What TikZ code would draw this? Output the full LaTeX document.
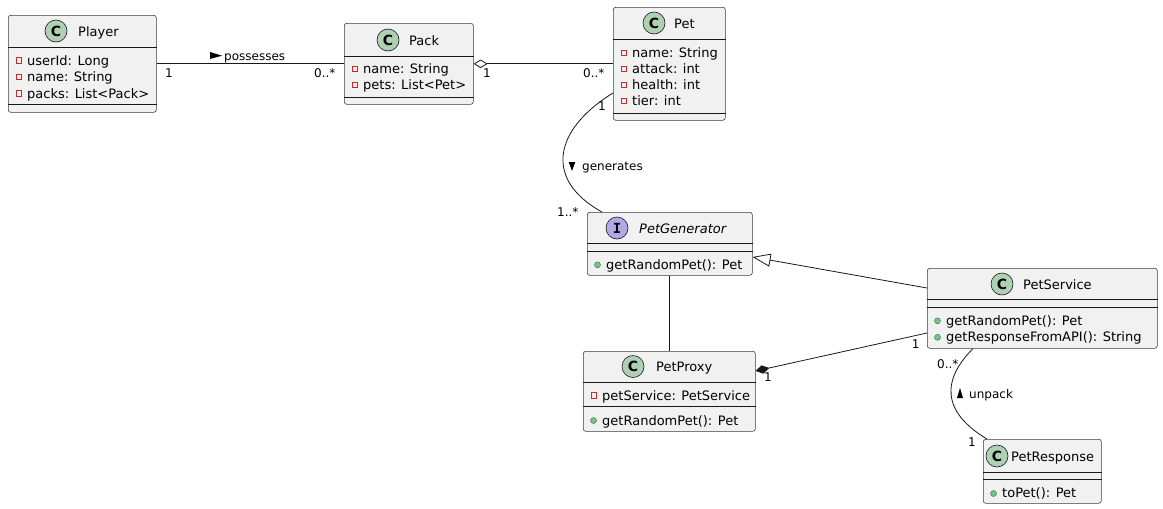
\documentclass[tikz,border=0pt]{standalone}
\usepackage{fontspec}
\setmainfont{DejaVu Sans}
\newfontfamily\monoI{DejaVu Sans Mono}
\usetikzlibrary{arrows.meta,calc}
\definecolor{boxfill}{HTML}{F1F1F1}
\definecolor{boxline}{HTML}{181818}
\definecolor{cgreen}{HTML}{ADD1B2}
\definecolor{ipurple}{HTML}{B4A7E5}
\definecolor{privred}{HTML}{C82930}
\definecolor{pubgreen}{HTML}{84BE84}
\definecolor{pubdark}{HTML}{038048}
\tikzset{
  box/.style={draw=boxline!85, fill=boxfill, rounded corners=2.5pt, line width=0.6pt, inner sep=0pt, anchor=north west},
  ctext/.style={font=\fontsize{13}{15}\selectfont, inner sep=0pt, anchor=base west},
  ltext/.style={font=\fontsize{12}{14}\selectfont, inner sep=0pt, anchor=base west},
  spot/.style={circle, draw=boxline, line width=0.6pt, minimum size=22pt, inner sep=0pt, font=\bfseries\fontsize{14}{14}\selectfont},
  priv/.style={rectangle, draw=privred, line width=0.8pt, minimum size=5.5pt, inner sep=0pt},
  pub/.style={circle, fill=pubgreen, draw=pubdark, line width=0.4pt, minimum size=6pt, inner sep=0pt},
  divider/.style={draw=boxline, line width=0.8pt},
  conn/.style={draw=boxline, line width=0.8pt},
  tri/.style={fill=black, draw=none}
}
\begin{document}
\begin{tikzpicture}[x=1pt,y=-1pt]
\useasboundingbox (0,0) rectangle (1163,509);

% ---------- Player ----------
\node[box, minimum width=148pt, minimum height=97pt] (player) at (8,15) {};
\draw[divider] ($(player.north west)+(0,32)$) -- ($(player.north east)+(0,32)$);
\draw[divider] ($(player.north west)+(0,89)$) -- ($(player.north east)+(0,89)$);
\node[spot, fill=cgreen] (player-spot) at (56,31) {C};
\node[ctext] (player-name) at (78,36.3) {Player};
\node[priv] (player-i1) at (19,60.5) {};
\node[ctext] (player-a1) at (27,65) {userId: Long};
\node[priv] (player-i2) at (19,77) {};
\node[ctext] (player-a2) at (27,81.5) {name: String};
\node[priv] (player-i3) at (19,93.5) {};
\node[ctext] (player-a3) at (27,98) {packs: List<Pack>};

% ---------- Pack ----------
\node[box, minimum width=129pt, minimum height=81pt] (pack) at (344,23) {};
\draw[divider] ($(pack.north west)+(0,33)$) -- ($(pack.north east)+(0,33)$);
\draw[divider] ($(pack.north west)+(0,74)$) -- ($(pack.north east)+(0,74)$);
\node[spot, fill=cgreen] (pack-spot) at (388,40) {C};
\node[ctext] (pack-name) at (409,45.5) {Pack};
\node[priv] (pack-i1) at (355,68.8) {};
\node[ctext] (pack-a1) at (363,73.3) {name: String};
\node[priv] (pack-i2) at (355,84.8) {};
\node[ctext] (pack-a2) at (363,89.3) {pets: List<Pet>};

% ---------- Pet ----------
\node[box, minimum width=112pt, minimum height=113pt] (pet) at (613,7) {};
\draw[divider] ($(pet.north west)+(0,32)$) -- ($(pet.north east)+(0,32)$);
\draw[divider] ($(pet.north west)+(0,106)$) -- ($(pet.north east)+(0,106)$);
\node[spot, fill=cgreen] (pet-spot) at (654,23) {C};
\node[ctext] (pet-name) at (674,28.3) {Pet};
\node[priv] (pet-i1) at (624,52.8) {};
\node[ctext] (pet-a1) at (632,57.3) {name: String};
\node[priv] (pet-i2) at (624,68.8) {};
\node[ctext] (pet-a2) at (632,73.3) {attack: int};
\node[priv] (pet-i3) at (624,84.8) {};
\node[ctext] (pet-a3) at (632,89.3) {health: int};
\node[priv] (pet-i4) at (624,100.8) {};
\node[ctext] (pet-a4) at (632,105.3) {tier: int};

% ---------- PetGenerator ----------
\node[box, minimum width=165pt, minimum height=63pt] (petgen) at (587,212) {};
\draw[divider] ($(petgen.north west)+(0,31)$) -- ($(petgen.north east)+(0,31)$);
\draw[divider] ($(petgen.north west)+(0,39)$) -- ($(petgen.north east)+(0,39)$);
\node[spot, fill=ipurple, font=\monoI\bfseries\fontsize{14}{14}\selectfont] (petgen-spot) at (617,228) {I};
\node[ctext, font=\itshape\fontsize{13}{15}\selectfont] (petgen-name) at (639,233.3) {PetGenerator};
\node[pub] (petgen-i1) at (597.5,264.8) {};
\node[ctext] (petgen-m1) at (606,269) {getRandomPet(): Pet};

% ---------- PetProxy ----------
\node[box, minimum width=172pt, minimum height=80pt] (pp) at (583,351) {};
\draw[divider] ($(pp.north west)+(0,31)$) -- ($(pp.north east)+(0,31)$);
\draw[divider] ($(pp.north west)+(0,55)$) -- ($(pp.north east)+(0,55)$);
\node[spot, fill=cgreen] (pp-spot) at (633,366.5) {C};
\node[ctext] (pp-name) at (656,371.7) {PetProxy};
\node[priv] (pp-i1) at (594,395.5) {};
\node[ctext] (pp-a1) at (602,400) {petService: PetService};
\node[pub] (pp-i2) at (593.5,420.5) {};
\node[ctext] (pp-m1) at (602,425) {getRandomPet(): Pet};

% ---------- PetService ----------
\node[box, minimum width=230pt, minimum height=80pt] (ps) at (927,268) {};
\draw[divider] ($(ps.north west)+(0,31)$) -- ($(ps.north east)+(0,31)$);
\draw[divider] ($(ps.north west)+(0,39)$) -- ($(ps.north east)+(0,39)$);
\node[spot, fill=cgreen] (ps-spot) at (1002,284) {C};
\node[ctext] (ps-name) at (1023,289) {PetService};
\node[pub] (ps-i1) at (937.5,320.8) {};
\node[ctext] (ps-m1) at (946,325) {getRandomPet(): Pet};
\node[pub] (ps-i2) at (937.5,337.3) {};
\node[ctext] (ps-m2) at (946,341.5) {getResponseFromAPI(): String};

% ---------- PetResponse ----------
\node[box, minimum width=118pt, minimum height=64pt] (pr) at (983,439) {};
\draw[divider] ($(pr.north west)+(0,33)$) -- ($(pr.north east)+(0,33)$);
\draw[divider] ($(pr.north west)+(0,40)$) -- ($(pr.north east)+(0,40)$);
\node[spot, fill=cgreen] (pr-spot) at (997,456) {C};
\node[ctext] (pr-name) at (1011,461.7) {PetResponse};
\node[pub] (pr-i1) at (993.5,493.5) {};
\node[ctext] (pr-m1) at (1002,497.7) {toPet(): Pet};

% ---------- Connectors ----------
% Player -- Pack : possesses
\draw[conn] (player.east) -- (pack.west);
\node[ltext] (lbl-poss) at (224,60) {possesses};
\fill[tri] ($(lbl-poss.base west)+(-14,-8)$) -- ($(lbl-poss.base west)+(-2,-4.3)$) -- ($(lbl-poss.base west)+(-14,-1)$) -- cycle;
\node[ltext] (m-player) at (165,77) {1};
\node[ltext] (m-pack1) at (314,77) {0..*};

% Pack o-- Pet
\draw[conn, -{Diamond[open, length=14pt, width=8.5pt, line width=0.8pt]}] (pet.west) -- (pack.east);
\node[ltext] (m-pack2) at (483,77) {1};
\node[ltext] (m-pet1) at (583,77) {0..*};

% Pet -- PetGenerator : generates
\draw[conn] ($(pet.north west)+(0,86)$) .. controls +(-60,37) and +(-58,-32) .. ($(petgen.north west)+(15,0)$);
\node[ltext] (lbl-gen) at (582,170.7) {generates};
\fill[tri] ($(lbl-gen.base west)+(-13.3,-8.7)$) -- ($(lbl-gen.base west)+(-6.7,-8.7)$) -- ($(lbl-gen.base west)+(-10,0.3)$) -- cycle;
\node[ltext] (m-pet2) at (598,110.7) {1};
\node[ltext] (m-gen) at (557,216.7) {1..*};

% PetGenerator -- PetProxy
\draw[conn] (petgen.south) -- (petgen.south |- pp.north);

% PetService --|> PetGenerator
\draw[conn, -{Triangle[open, length=18pt, width=13pt, line width=0.8pt]}] ($(ps.north west)+(0,20)$) -- ($(petgen.north east)+(0,45)$);

% PetService --* PetProxy
\draw[conn, -{Diamond[length=14pt, width=8.5pt]}] ($(ps.north west)+(0,65)$) -- ($(pp.north east)+(0,20)$);
\node[ltext] (m-ps1) at (911.7,348) {1};
\node[ltext] (m-pp) at (764,381.7) {1};

% PetService -- PetResponse : unpack
\draw[conn] ($(ps.south west)+(46,0)$) .. controls +(-30,30) and +(-47,-28) .. ($(pr.north west)+(4,0)$);
\node[ltext] (lbl-unpack) at (969,398) {unpack};
\fill[tri] ($(lbl-unpack.base west)+(-12,0)$) -- ($(lbl-unpack.base west)+(-6,0)$) -- ($(lbl-unpack.base west)+(-9,-10)$) -- cycle;
\node[ltext] (m-ps2) at (937,368) {0..*};
\node[ltext] (m-pr) at (968,446.7) {1};
\end{tikzpicture}
\end{document}
